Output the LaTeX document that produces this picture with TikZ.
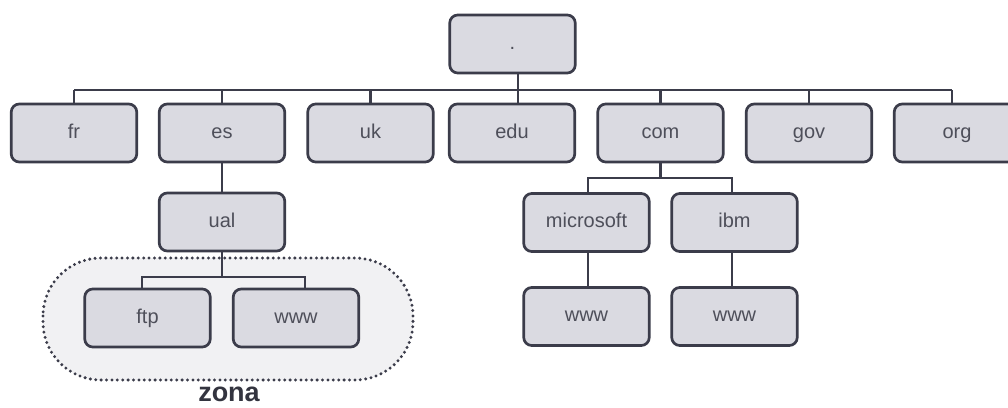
\documentclass[tikz,border=0pt]{standalone}
\usepackage{fontspec}
\setmainfont{Liberation Sans}
\definecolor{edge}{HTML}{3B3C4A}
\definecolor{boxfill}{HTML}{DADAE1}
\definecolor{label}{HTML}{4E4F5A}
\definecolor{zonefill}{HTML}{F1F1F3}
\definecolor{zonetext}{HTML}{33343F}
\tikzset{
  dnsbox/.style={draw=edge, fill=boxfill, line width=2.7pt, rounded corners=8pt,
    minimum width=125.5pt, minimum height=58pt, inner sep=0pt,
    text height=10.5pt, text depth=0pt,
    text=label, font=\fontsize{20}{24}\selectfont},
  link/.style={draw=edge, line width=2.7pt},
  zone/.style={draw=edge, fill=zonefill, line width=3.3pt, line cap=round,
    dash pattern=on 0pt off 5.4pt, rounded corners=58pt}
}
\begin{document}
\begin{tikzpicture}[x=1pt, y=-1pt]
\useasboundingbox (0,0) rectangle (1008,407);

% shaded zone behind the ual subdomains
\path[zone] (43,258) rectangle (413,380);
\node[font=\bfseries\fontsize{27}{30}\selectfont, text=zonetext] (zlabel) at (229,394) {zona};

% nodes
\node[dnsbox] (root) at (512.5,44) {.};
\node[dnsbox] (fr)  at (74,133)  {fr};
\node[dnsbox] (es)  at (222,133) {es};
\node[dnsbox] (uk)  at (370.5,133) {uk};
\node[dnsbox] (edu) at (512,133) {edu};
\node[dnsbox] (com) at (660.5,133) {com};
\node[dnsbox] (gov) at (809,133) {gov};
\node[dnsbox] (org) at (957,133) {org};

\node[dnsbox] (ual) at (222,222) {ual};
\node[dnsbox] (ftp) at (147.5,318) {ftp};
\node[dnsbox] (uwww) at (296,318) {www};

\node[dnsbox] (ms)  at (586.5,222.5) {microsoft};
\node[dnsbox] (ibm) at (734.5,222.5) {ibm};
\node[dnsbox] (mswww) at (586.5,316.5) {www};
\node[dnsbox] (ibmwww) at (734.5,316.5) {www};

% attachment points
\coordinate (rootT) at ([xshift=5.5pt]root.south);
\coordinate (eduT)  at ([xshift=6pt]edu.north);
\coordinate (orgT)  at ([xshift=-5pt]org.north);
\coordinate (ftpT)  at ([xshift=-5.5pt]ftp.north);
\coordinate (uwwwT) at ([xshift=9pt]uwww.north);
\coordinate (msT)   at ([xshift=1.5pt]ms.north);
\coordinate (msB)   at ([xshift=1.5pt]ms.south);
\coordinate (ibmT)  at ([xshift=-2.5pt]ibm.north);
\coordinate (ibmB)  at ([xshift=-2.5pt]ibm.south);
\coordinate (mswwwT)  at ([xshift=1.5pt]mswww.north);
\coordinate (ibmwwwT) at ([xshift=-2.5pt]ibmwww.north);

% top bus
\path[link] (rootT) -- (rootT |- 0,90);
\foreach \n in {fr,es,uk,com,gov}
  \path[link] (\n.north) -- (\n.north |- 0,90);
\path[link] (eduT) -- (eduT |- 0,90);
\path[link] (orgT) -- (orgT |- 0,90);
\path[link] (fr.north |- 0,90) -- (orgT |- 0,90);

% es branch
\path[link] (es.south) -- (ual.north);
\path[link] (ual.south) -- (ual.south |- 0,277);
\path[link] (ftpT) |- (uwwwT |- 0,277) -- (uwwwT);

% com branch
\path[link] (com.south) -- (com.south |- 0,178);
\path[link] (msT) |- (ibmT |- 0,178) -- (ibmT);
\path[link] (msB) -- (mswwwT);
\path[link] (ibmB) -- (ibmwwwT);
\end{tikzpicture}
\end{document}
